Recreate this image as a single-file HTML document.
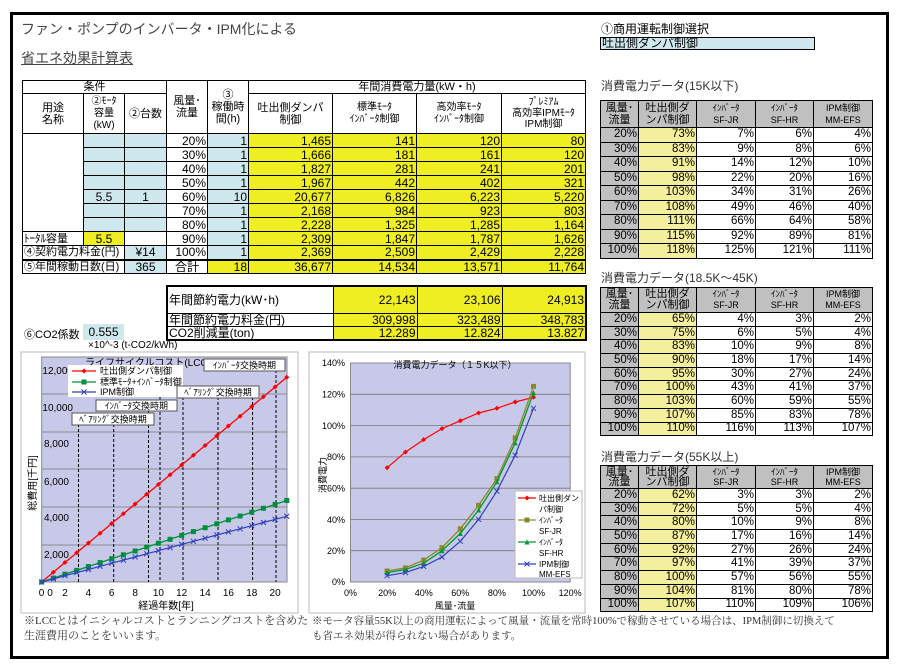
<!DOCTYPE html>
<html><head><meta charset="utf-8">
<style>
*{margin:0;padding:0;box-sizing:border-box}
body{width:899px;height:671px;background:#fff;position:relative;overflow:hidden;font-family:"Liberation Sans","Noto Sans CJK JP",sans-serif;color:#000}
.abs{position:absolute}
table{border-collapse:collapse;table-layout:fixed;position:absolute}
td{border:1px solid #000;font-size:12px;line-height:12px;padding:0 1px;overflow:hidden;white-space:nowrap}
.r{text-align:right}.c{text-align:center}
.b{background:#cfe8ee}.y{background:#eeee22}.py{background:#f3ef9c}.g{background:#c0c0c0}
.h td{font-size:11px;line-height:12px}
.rt td{font-size:11.5px;line-height:11px;height:auto}
</style></head><body>
<div class="abs" style="left:10px;top:12px;width:879px;height:647px;border:3px solid #000"></div>
<div class="abs" style="left:21px;top:19px;font-size:14px;color:#444">ファン・ポンプのインバータ・IPM化による</div>
<div class="abs" style="left:21px;top:48px;font-size:14px;color:#444;text-decoration:underline">省エネ効果計算表</div>

<table style="left:22px;top:80px;width:563px">
<colgroup><col style="width:61px"><col style="width:41px"><col style="width:42px"><col style="width:41px"><col style="width:41px"><col style="width:84px"><col style="width:84px"><col style="width:85px"><col style="width:84px"></colgroup>
<tr class="h" style="height:13px"><td colspan="3" class="c">条件</td><td rowspan="2" class="c" style="white-space:normal">風量･<br>流量</td><td rowspan="2" class="c" style="white-space:normal">③<br>稼働時<br>間(h)</td><td colspan="4" class="c">年間消費電力量(kW・h)</td></tr>
<tr class="h" style="height:40px"><td class="c">用途<br>名称</td><td class="c" style="font-size:10px">②ﾓｰﾀ<br>容量<br>(kW)</td><td class="c">②台数</td><td class="c">吐出側ダンパ<br>制御</td><td class="c" style="font-size:10px">標準ﾓｰﾀ<br>ｲﾝﾊﾞｰﾀ制御</td><td class="c" style="font-size:10px">高効率ﾓｰﾀ<br>ｲﾝﾊﾞｰﾀ制御</td><td class="c" style="font-size:10px;line-height:11px">ﾌﾟﾚﾐｱﾑ<br>高効率IPMﾓｰﾀ<br>IPM制御</td></tr>
<tr style="height:14px"><td rowspan="7"></td><td class="b"></td><td class="b"></td><td class="r">20%</td><td class="b r">1</td><td class="y r">1,465</td><td class="y r">141</td><td class="y r">120</td><td class="y r">80</td></tr>
<tr style="height:14px"><td class="b"></td><td class="b"></td><td class="r">30%</td><td class="b r">1</td><td class="y r">1,666</td><td class="y r">181</td><td class="y r">161</td><td class="y r">120</td></tr>
<tr style="height:14px"><td class="b"></td><td class="b"></td><td class="r">40%</td><td class="b r">1</td><td class="y r">1,827</td><td class="y r">281</td><td class="y r">241</td><td class="y r">201</td></tr>
<tr style="height:14px"><td class="b"></td><td class="b"></td><td class="r">50%</td><td class="b r">1</td><td class="y r">1,967</td><td class="y r">442</td><td class="y r">402</td><td class="y r">321</td></tr>
<tr style="height:14px"><td class="b c">5.5</td><td class="b c">1</td><td class="r">60%</td><td class="b r">10</td><td class="y r">20,677</td><td class="y r">6,826</td><td class="y r">6,223</td><td class="y r">5,220</td></tr>
<tr style="height:14px"><td class="b"></td><td class="b"></td><td class="r">70%</td><td class="b r">1</td><td class="y r">2,168</td><td class="y r">984</td><td class="y r">923</td><td class="y r">803</td></tr>
<tr style="height:14px"><td class="b"></td><td class="b"></td><td class="r">80%</td><td class="b r">1</td><td class="y r">2,228</td><td class="y r">1,325</td><td class="y r">1,285</td><td class="y r">1,164</td></tr>
<tr style="height:14px"><td style="font-size:11px">ﾄｰﾀﾙ容量</td><td class="y c">5.5</td><td></td><td class="r">90%</td><td class="b r">1</td><td class="y r">2,309</td><td class="y r">1,847</td><td class="y r">1,787</td><td class="y r">1,626</td></tr>
<tr style="height:14px"><td colspan="2" style="font-size:11px">④契約電力料金(円)</td><td class="b c">¥14</td><td class="r">100%</td><td class="b r">1</td><td class="y r">2,369</td><td class="y r">2,509</td><td class="y r">2,429</td><td class="y r">2,228</td></tr>
<tr style="height:14px;border-top:2px solid #000"><td colspan="2" style="font-size:11px">⑤年間稼動日数(日)</td><td class="b c">365</td><td class="c">合計</td><td class="y r">18</td><td class="y r">36,677</td><td class="y r">14,534</td><td class="y r">13,571</td><td class="y r">11,764</td></tr>
</table>

<table style="left:166px;top:285px;width:419px;border:2px solid #000">
<colgroup><col style="width:166px"><col style="width:84px"><col style="width:85px"><col style="width:84px"></colgroup>
<tr style="height:27px"><td>年間節約電力(kW･h)</td><td class="y r">22,143</td><td class="y r">23,106</td><td class="y r">24,913</td></tr>
<tr style="height:13px"><td>年間節約電力料金(円)</td><td class="y r">309,998</td><td class="y r">323,489</td><td class="y r">348,783</td></tr>
<tr style="height:13px"><td>CO2削減量(ton)</td><td class="y r">12.289</td><td class="y r">12.824</td><td class="y r">13.827</td></tr>
</table>
<div class="abs" style="left:24px;top:326px;font-size:11px">⑥CO2係数</div>
<div class="abs b" style="left:83px;top:324px;width:41px;height:16px;font-size:12px;text-align:center;line-height:16px">0.555</div>
<div class="abs" style="left:88px;top:340px;font-size:10px">×10^-3 (t-CO2/kWh)</div>

<div class="abs" style="left:601px;top:23px;font-size:12px;line-height:13px">①商用運転制御選択</div>
<div class="abs b" style="left:600px;top:37px;width:215px;height:13px;border:1px solid #000;font-size:12px;line-height:11px;padding-left:1px">吐出側ダンパ制御</div>

<div class="abs" style="left:601px;top:80px;font-size:12px;line-height:13px;color:#333">消費電力データ(15K以下)</div>
<table class="rt" style="left:600px;top:100px;width:272px">
<colgroup><col style="width:38px"><col style="width:58px"><col style="width:59px"><col style="width:58px"><col style="width:59px"></colgroup>
<tr style="height:27px" class="g"><td class="c" style="font-size:11px;line-height:12px">風量･<br>流量</td><td class="c" style="font-size:11px;line-height:12px">吐出側ダ<br>ンパ制御</td><td class="c" style="font-size:9px;line-height:12px">ｲﾝﾊﾞｰﾀ<br>SF-JR</td><td class="c" style="font-size:9px;line-height:12px">ｲﾝﾊﾞｰﾀ<br>SF-HR</td><td class="c" style="font-size:9px;line-height:12px">IPM制御<br>MM-EFS</td></tr>
<tr style="height:14.5px"><td class="g r">20%</td><td class="py r">73%</td><td class="r">7%</td><td class="r">6%</td><td class="r">4%</td></tr>
<tr style="height:14.5px"><td class="g r">30%</td><td class="py r">83%</td><td class="r">9%</td><td class="r">8%</td><td class="r">6%</td></tr>
<tr style="height:14.5px"><td class="g r">40%</td><td class="py r">91%</td><td class="r">14%</td><td class="r">12%</td><td class="r">10%</td></tr>
<tr style="height:14.5px"><td class="g r">50%</td><td class="py r">98%</td><td class="r">22%</td><td class="r">20%</td><td class="r">16%</td></tr>
<tr style="height:14.5px"><td class="g r">60%</td><td class="py r">103%</td><td class="r">34%</td><td class="r">31%</td><td class="r">26%</td></tr>
<tr style="height:14.5px"><td class="g r">70%</td><td class="py r">108%</td><td class="r">49%</td><td class="r">46%</td><td class="r">40%</td></tr>
<tr style="height:14.5px"><td class="g r">80%</td><td class="py r">111%</td><td class="r">66%</td><td class="r">64%</td><td class="r">58%</td></tr>
<tr style="height:14.5px"><td class="g r">90%</td><td class="py r">115%</td><td class="r">92%</td><td class="r">89%</td><td class="r">81%</td></tr>
<tr style="height:14.5px"><td class="g r">100%</td><td class="py r">118%</td><td class="r">125%</td><td class="r">121%</td><td class="r">111%</td></tr>
</table>

<div class="abs" style="left:601px;top:272px;font-size:12px;line-height:13px;color:#333">消費電力データ(18.5K～45K)</div>
<table class="rt" style="left:600px;top:287px;width:272px">
<colgroup><col style="width:38px"><col style="width:58px"><col style="width:59px"><col style="width:58px"><col style="width:59px"></colgroup>
<tr style="height:25px" class="g"><td class="c" style="font-size:11px;line-height:11px">風量･<br>流量</td><td class="c" style="font-size:11px;line-height:11px">吐出側ダ<br>ンパ制御</td><td class="c" style="font-size:9px;line-height:11px">ｲﾝﾊﾞｰﾀ<br>SF-JR</td><td class="c" style="font-size:9px;line-height:11px">ｲﾝﾊﾞｰﾀ<br>SF-HR</td><td class="c" style="font-size:9px;line-height:11px">IPM制御<br>MM-EFS</td></tr>
<tr style="height:13.7px"><td class="g r">20%</td><td class="py r">65%</td><td class="r">4%</td><td class="r">3%</td><td class="r">2%</td></tr>
<tr style="height:13.7px"><td class="g r">30%</td><td class="py r">75%</td><td class="r">6%</td><td class="r">5%</td><td class="r">4%</td></tr>
<tr style="height:13.7px"><td class="g r">40%</td><td class="py r">83%</td><td class="r">10%</td><td class="r">9%</td><td class="r">8%</td></tr>
<tr style="height:13.7px"><td class="g r">50%</td><td class="py r">90%</td><td class="r">18%</td><td class="r">17%</td><td class="r">14%</td></tr>
<tr style="height:13.7px"><td class="g r">60%</td><td class="py r">95%</td><td class="r">30%</td><td class="r">27%</td><td class="r">24%</td></tr>
<tr style="height:13.7px"><td class="g r">70%</td><td class="py r">100%</td><td class="r">43%</td><td class="r">41%</td><td class="r">37%</td></tr>
<tr style="height:13.7px"><td class="g r">80%</td><td class="py r">103%</td><td class="r">60%</td><td class="r">59%</td><td class="r">55%</td></tr>
<tr style="height:13.7px"><td class="g r">90%</td><td class="py r">107%</td><td class="r">85%</td><td class="r">83%</td><td class="r">78%</td></tr>
<tr style="height:13.7px"><td class="g r">100%</td><td class="py r">110%</td><td class="r">116%</td><td class="r">113%</td><td class="r">107%</td></tr>
</table>

<div class="abs" style="left:601px;top:451px;font-size:12px;line-height:13px;color:#333">消費電力データ(55K以上)</div>
<table class="rt" style="left:600px;top:465px;width:272px">
<colgroup><col style="width:38px"><col style="width:58px"><col style="width:59px"><col style="width:58px"><col style="width:59px"></colgroup>
<tr style="height:23px" class="g"><td class="c" style="font-size:11px;line-height:10.5px">風量･<br>流量</td><td class="c" style="font-size:11px;line-height:10.5px">吐出側ダ<br>ンパ制御</td><td class="c" style="font-size:9px;line-height:10.5px">ｲﾝﾊﾞｰﾀ<br>SF-JR</td><td class="c" style="font-size:9px;line-height:10.5px">ｲﾝﾊﾞｰﾀ<br>SF-HR</td><td class="c" style="font-size:9px;line-height:10.5px">IPM制御<br>MM-EFS</td></tr>
<tr style="height:13.7px"><td class="g r">20%</td><td class="py r">62%</td><td class="r">3%</td><td class="r">3%</td><td class="r">2%</td></tr>
<tr style="height:13.7px"><td class="g r">30%</td><td class="py r">72%</td><td class="r">5%</td><td class="r">5%</td><td class="r">4%</td></tr>
<tr style="height:13.7px"><td class="g r">40%</td><td class="py r">80%</td><td class="r">10%</td><td class="r">9%</td><td class="r">8%</td></tr>
<tr style="height:13.7px"><td class="g r">50%</td><td class="py r">87%</td><td class="r">17%</td><td class="r">16%</td><td class="r">14%</td></tr>
<tr style="height:13.7px"><td class="g r">60%</td><td class="py r">92%</td><td class="r">27%</td><td class="r">26%</td><td class="r">24%</td></tr>
<tr style="height:13.7px"><td class="g r">70%</td><td class="py r">97%</td><td class="r">41%</td><td class="r">39%</td><td class="r">37%</td></tr>
<tr style="height:13.7px"><td class="g r">80%</td><td class="py r">100%</td><td class="r">57%</td><td class="r">56%</td><td class="r">55%</td></tr>
<tr style="height:13.7px"><td class="g r">90%</td><td class="py r">104%</td><td class="r">81%</td><td class="r">80%</td><td class="r">78%</td></tr>
<tr style="height:13.7px"><td class="g r">100%</td><td class="py r">107%</td><td class="r">110%</td><td class="r">109%</td><td class="r">106%</td></tr>
</table>

<svg class="abs" style="left:0;top:0" width="899" height="671" font-family="Liberation Sans, Noto Sans CJK JP, sans-serif">
<defs>
<marker id="mr" markerWidth="6" markerHeight="6" refX="3" refY="3" markerUnits="userSpaceOnUse"><path d="M3 0.5L5.5 3L3 5.5L0.5 3Z" fill="#f00"/></marker>
<marker id="mg" markerWidth="6" markerHeight="6" refX="3" refY="3" markerUnits="userSpaceOnUse"><rect x="0.5" y="0.5" width="5" height="5" fill="#00903c"/></marker>
<marker id="mb" markerWidth="6" markerHeight="6" refX="3" refY="3" markerUnits="userSpaceOnUse"><path d="M0.5 0.5L5.5 5.5M5.5 0.5L0.5 5.5" stroke="#3040c0" stroke-width="1"/></marker>
<marker id="mo" markerWidth="6" markerHeight="6" refX="3" refY="3" markerUnits="userSpaceOnUse"><rect x="0.5" y="0.5" width="5" height="5" fill="#8a8a2a"/></marker>
<marker id="mt" markerWidth="6" markerHeight="6" refX="3" refY="3" markerUnits="userSpaceOnUse"><path d="M3 0.5L5.5 5.5L0.5 5.5Z" fill="#009a30"/></marker>
</defs>
<rect x="21" y="352" width="277" height="261" fill="#fff" stroke="#bbb"/>
<rect x="41.7" y="357" width="245.3" height="225" fill="#c8c8e8" stroke="#888"/>
<g stroke="#777" stroke-width="0.8"><line x1="41.7" x2="287" y1="394" y2="394"/><line x1="41.7" x2="287" y1="432" y2="432"/><line x1="41.7" x2="287" y1="469" y2="469"/><line x1="41.7" x2="287" y1="507" y2="507"/><line x1="41.7" x2="287" y1="545" y2="545"/></g>
<g stroke="#000" stroke-dasharray="3,2" stroke-width="1"><line x1="78.5" x2="78.5" y1="424" y2="582"/><line x1="113.7" x2="113.7" y1="424" y2="582"/><line x1="148.5" x2="148.5" y1="410" y2="582"/><line x1="160" x2="160" y1="397" y2="582"/><line x1="183" x2="183" y1="397" y2="582"/><line x1="218" x2="218" y1="397" y2="582"/><line x1="252.6" x2="252.6" y1="397" y2="582"/><line x1="276" x2="276" y1="370" y2="582"/></g>
<g font-size="10" text-anchor="end"><text x="73" y="374">12,000</text><text x="73" y="411">10,000</text><text x="69" y="447">8,000</text><text x="69" y="485">6,000</text><text x="69" y="521">4,000</text><text x="69" y="558">2,000</text></g>
<g font-size="10" text-anchor="middle"><text x="41.5" y="596">0</text><text x="50" y="596">0</text><text x="65" y="596">2</text><text x="88.4" y="596">4</text><text x="111.7" y="596">6</text><text x="135.1" y="596">8</text><text x="158.4" y="596">10</text><text x="181.7" y="596">12</text><text x="205.1" y="596">14</text><text x="228.4" y="596">16</text><text x="251.8" y="596">18</text><text x="275.1" y="596">20</text></g>
<text x="166" y="609" font-size="10" text-anchor="middle">経過年数[年]</text>
<text transform="translate(36,483) rotate(-90)" font-size="10" text-anchor="middle">総費用[千円]</text>
<text x="148" y="366" font-size="10" text-anchor="middle">ライフサイクルコスト(LCC)</text>
<polyline fill="none" stroke="#f00" stroke-width="1.3" marker-start="url(#mr)" marker-mid="url(#mr)" marker-end="url(#mr)" points="41.7,582 53.4,572.25 65,562.5 76.7,552.75 88.4,543 100.1,533.25 111.7,523.5 123.4,513.75 135.1,504 146.7,494.25 158.4,484.5 170.1,474.75 181.7,465 193.4,455.25 205.1,445.5 216.8,435.75 228.4,426 240.1,416.25 251.8,406.5 263.4,396.75 275.1,387 286.8,377.25"/>
<polyline fill="none" stroke="#00903c" stroke-width="1.3" marker-start="url(#mg)" marker-mid="url(#mg)" marker-end="url(#mg)" points="41.7,582 53.4,578.1 65,574.2 76.7,570.4 88.4,566.5 100.1,562.6 111.7,558.7 123.4,554.8 135.1,551 146.7,547.1 158.4,543.2 170.1,539.3 181.7,535.4 193.4,531.6 205.1,527.7 216.8,523.8 228.4,519.9 240.1,516 251.8,512.2 263.4,508.3 275.1,504.4 286.8,500.5"/>
<polyline fill="none" stroke="#3040c0" stroke-width="1.2" marker-start="url(#mb)" marker-mid="url(#mb)" marker-end="url(#mb)" points="41.7,582 53.4,578.9 65,575.7 76.7,572.6 88.4,569.5 100.1,566.3 111.7,563.2 123.4,560.1 135.1,557 146.7,553.8 158.4,550.7 170.1,547.6 181.7,544.4 193.4,541.3 205.1,538.2 216.8,535 228.4,531.9 240.1,528.8 251.8,525.7 263.4,522.5 275.1,519.4 286.8,516.3"/>
<rect x="68" y="365" width="115" height="32" fill="#fff"/>
<g font-size="9"><line x1="72" x2="96" y1="371" y2="371" stroke="#f00" stroke-width="1.3"/><path d="M84 368.5L86.5 371L84 373.5L81.5 371Z" fill="#f00"/><text x="100" y="374">吐出側ダンパ制御</text>
<line x1="72" x2="96" y1="382" y2="382" stroke="#00903c" stroke-width="1.3"/><rect x="81.5" y="379.5" width="5" height="5" fill="#00903c"/><text x="100" y="385">標準ﾓｰﾀ+ｲﾝﾊﾞｰﾀ制御</text>
<line x1="72" x2="96" y1="392" y2="392" stroke="#3040c0" stroke-width="1.2"/><path d="M81.5 389.5L86.5 394.5M86.5 389.5L81.5 394.5" stroke="#3040c0"/><text x="100" y="395">IPM制御</text></g>
<g font-size="9" text-anchor="middle"><rect x="204" y="359" width="81" height="12" fill="#fff" stroke="#555"/><text x="244.5" y="368.5">ｲﾝﾊﾞｰﾀ交換時期</text>
<rect x="177" y="386" width="82" height="12" fill="#fff" stroke="#555"/><text x="218" y="395.5">ﾍﾞｱﾘﾝｸﾞ交換時期</text>
<rect x="96" y="400" width="81" height="11" fill="#fff" stroke="#555"/><text x="136.5" y="409">ｲﾝﾊﾞｰﾀ交換時期</text>
<rect x="72" y="413" width="82" height="12" fill="#fff" stroke="#555"/><text x="113" y="422.5">ﾍﾞｱﾘﾝｸﾞ交換時期</text></g>
<rect x="309" y="352" width="276" height="261" fill="#fff" stroke="#bbb"/>
<rect x="350.5" y="363" width="219.7" height="219" fill="#c8c8e8" stroke="#888"/>
<g stroke="#777" stroke-width="0.8"><line x1="350.5" x2="570" y1="394.3" y2="394.3"/><line x1="350.5" x2="570" y1="425.6" y2="425.6"/><line x1="350.5" x2="570" y1="456.9" y2="456.9"/><line x1="350.5" x2="570" y1="488.2" y2="488.2"/><line x1="350.5" x2="570" y1="519.4" y2="519.4"/><line x1="350.5" x2="570" y1="550.7" y2="550.7"/></g>
<g font-size="9" text-anchor="end"><text x="345" y="366">140%</text><text x="345" y="397.5">120%</text><text x="345" y="429">100%</text><text x="345" y="460">80%</text><text x="345" y="491.5">60%</text><text x="345" y="523">40%</text><text x="345" y="554">20%</text><text x="345" y="585">0%</text></g>
<g font-size="9" text-anchor="middle"><text x="350.5" y="596">0%</text><text x="387.1" y="596">20%</text><text x="423.7" y="596">40%</text><text x="460.3" y="596">60%</text><text x="496.9" y="596">80%</text><text x="533.5" y="596">100%</text><text x="570.1" y="596">120%</text></g>
<text x="455" y="609" font-size="9" text-anchor="middle">風量･流量</text>
<text transform="translate(326,475) rotate(-90)" font-size="9" text-anchor="middle">消費電力</text>
<text x="455" y="368" font-size="9" text-anchor="middle">消費電力データ（１５K以下）</text>
<polyline fill="none" stroke="#f00" stroke-width="1.2" marker-start="url(#mr)" marker-mid="url(#mr)" marker-end="url(#mr)" points="387.1,467.8 405.4,452.1 423.7,439.6 442,428.6 460.3,420.8 478.6,413 496.9,408.3 515.2,402 533.5,397.3"/>
<polyline fill="none" stroke="#8a8a2a" stroke-width="1.3" marker-start="url(#mo)" marker-mid="url(#mo)" marker-end="url(#mo)" points="387.1,571 405.4,567.9 423.7,560.1 442,547.6 460.3,528.8 478.6,505.3 496.9,478.7 515.2,438 533.5,386.4"/>
<polyline fill="none" stroke="#009a30" stroke-width="1.3" marker-start="url(#mt)" marker-mid="url(#mt)" marker-end="url(#mt)" points="387.1,572.6 405.4,569.5 423.7,563.2 442,550.7 460.3,533.5 478.6,510 496.9,481.8 515.2,442.7 533.5,392.6"/>
<polyline fill="none" stroke="#3040c0" stroke-width="1.2" marker-start="url(#mb)" marker-mid="url(#mb)" marker-end="url(#mb)" points="387.1,575.7 405.4,572.6 423.7,566.4 442,557 460.3,541.3 478.6,519.4 496.9,491.2 515.2,455.2 533.5,408.3"/>
<rect x="515" y="491" width="67" height="87" fill="#fff" stroke="#bbb"/>
<g font-size="8"><line x1="518" x2="536" y1="498" y2="498" stroke="#f00" stroke-width="1.2"/><path d="M527 495.5L529.5 498L527 500.5L524.5 498Z" fill="#f00"/><text x="539" y="501">吐出側ダン</text><text x="539" y="512">パ制御</text>
<line x1="518" x2="536" y1="520" y2="520" stroke="#8a8a2a" stroke-width="1.3"/><rect x="524.5" y="517.5" width="5" height="5" fill="#8a8a2a"/><text x="539" y="523">ｲﾝﾊﾞｰﾀ</text><text x="539" y="534">SF-JR</text>
<line x1="518" x2="536" y1="542" y2="542" stroke="#009a30" stroke-width="1.3"/><path d="M527 539.5L529.5 544.5L524.5 544.5Z" fill="#009a30"/><text x="539" y="545">ｲﾝﾊﾞｰﾀ</text><text x="539" y="556">SF-HR</text>
<line x1="518" x2="536" y1="564" y2="564" stroke="#3040c0" stroke-width="1.2"/><path d="M524.5 561.5L529.5 566.5M529.5 561.5L524.5 566.5" stroke="#3040c0"/><text x="539" y="567">IPM制御</text><text x="539" y="577">MM-EFS</text></g>
</svg>

<div class="abs" style="left:24px;top:614px;font-size:11px;line-height:15px;color:#333;white-space:nowrap;font-family:'Liberation Serif','Noto Serif CJK SC',serif">※LCCとはイニシャルコストとランニングコストを含めた<br>生涯費用のことをいいます。</div>
<div class="abs" style="left:312px;top:614px;font-size:10.5px;line-height:15px;color:#333;white-space:nowrap;font-family:'Liberation Serif','Noto Serif CJK SC',serif">※モータ容量55K以上の商用運転によって風量・流量を常時100%で稼動させている場合は、IPM制御に切換えて<br>も省エネ効果が得られない場合があります。</div>
</body></html>
